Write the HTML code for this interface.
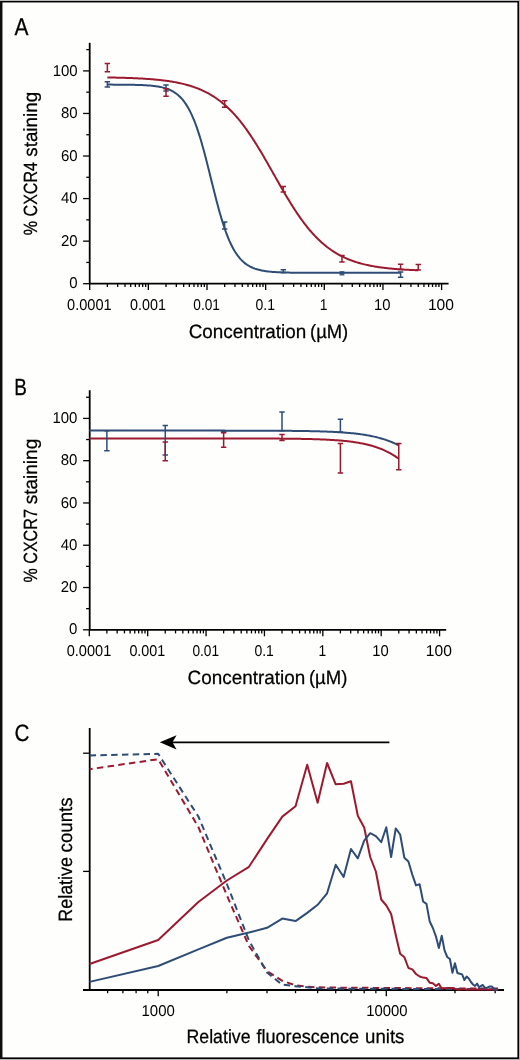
<!DOCTYPE html>
<html><head><meta charset="utf-8"><style>
html,body{margin:0;padding:0;background:#fefefd;}
svg{display:block;will-change:transform;}
text{font-family:"Liberation Sans",sans-serif;text-rendering:geometricPrecision;fill:#000;stroke:#000;stroke-width:0.25px;}
text.tl{stroke:none;}
.ax{stroke:#000;stroke-width:1.8;}
.tk{stroke:#000;stroke-width:1.3;}
.tl{font-size:15.6px;}
.al{font-size:19.3px;}
.rc{font-size:18.9px;}
.yl{font-size:17.3px;}
.pl{font-size:22.5px;}
</style></head><body>
<svg width="520" height="1060" viewBox="0 0 520 1060">
<rect x="0" y="0" width="520" height="1060" fill="#fefefd"/>
<rect x="0" y="0" width="520" height="1" fill="#bbb"/>
<rect x="0" y="1059" width="520" height="1" fill="#b2b2b2"/>
<rect x="519" y="0" width="1" height="1060" fill="#b2b2b2"/>
<rect x="0" y="1" width="519" height="1.45" fill="#000"/>
<rect x="0" y="1057.4" width="519" height="1.6" fill="#000"/>
<rect x="0" y="1" width="2.45" height="1058" fill="#0e0e0e"/>
<rect x="517.4" y="1" width="1.6" height="1058" fill="#000"/>
<g id="A">
<text transform="translate(14.6 34.9) scale(0.93 1.075)" class="pl">A</text>
<line x1="89.7" y1="42.8" x2="89.7" y2="283.7" class="ax"/>
<line x1="83.1" y1="283.7" x2="89.7" y2="283.7" class="tk"/>
<text x="69.35" y="288.3" class="tl" font-size="15.6" textLength="8.33" lengthAdjust="spacingAndGlyphs">0</text>
<line x1="86.3" y1="262.42" x2="89.7" y2="262.42" class="tk"/>
<line x1="83.1" y1="241.14" x2="89.7" y2="241.14" class="tk"/>
<text x="61.04" y="245.74" class="tl" font-size="15.6" textLength="16.66" lengthAdjust="spacingAndGlyphs">20</text>
<line x1="86.3" y1="219.86" x2="89.7" y2="219.86" class="tk"/>
<line x1="83.1" y1="198.58" x2="89.7" y2="198.58" class="tk"/>
<text x="61.04" y="203.18" class="tl" font-size="15.6" textLength="16.66" lengthAdjust="spacingAndGlyphs">40</text>
<line x1="86.3" y1="177.3" x2="89.7" y2="177.3" class="tk"/>
<line x1="83.1" y1="156.02" x2="89.7" y2="156.02" class="tk"/>
<text x="61.04" y="160.62" class="tl" font-size="15.6" textLength="16.66" lengthAdjust="spacingAndGlyphs">60</text>
<line x1="86.3" y1="134.74" x2="89.7" y2="134.74" class="tk"/>
<line x1="83.1" y1="113.46" x2="89.7" y2="113.46" class="tk"/>
<text x="61.04" y="118.06" class="tl" font-size="15.6" textLength="16.66" lengthAdjust="spacingAndGlyphs">80</text>
<line x1="86.3" y1="92.18" x2="89.7" y2="92.18" class="tk"/>
<line x1="83.1" y1="70.9" x2="89.7" y2="70.9" class="tk"/>
<text x="52.69" y="75.5" class="tl" font-size="15.6" textLength="24.99" lengthAdjust="spacingAndGlyphs">100</text>
<line x1="86.3" y1="49.62" x2="89.7" y2="49.62" class="tk"/>
<line x1="89.7" y1="283.7" x2="448.6" y2="283.7" class="ax"/>
<line x1="89.7" y1="283.7" x2="89.7" y2="290.1" class="tk"/>
<line x1="107.36" y1="283.7" x2="107.36" y2="287" class="tk"/>
<line x1="117.68" y1="283.7" x2="117.68" y2="287" class="tk"/>
<line x1="125.01" y1="283.7" x2="125.01" y2="287" class="tk"/>
<line x1="130.69" y1="283.7" x2="130.69" y2="287" class="tk"/>
<line x1="135.34" y1="283.7" x2="135.34" y2="287" class="tk"/>
<line x1="139.27" y1="283.7" x2="139.27" y2="287" class="tk"/>
<line x1="142.67" y1="283.7" x2="142.67" y2="287" class="tk"/>
<line x1="145.67" y1="283.7" x2="145.67" y2="287" class="tk"/>
<line x1="148.35" y1="283.7" x2="148.35" y2="290.1" class="tk"/>
<line x1="166.01" y1="283.7" x2="166.01" y2="287" class="tk"/>
<line x1="176.33" y1="283.7" x2="176.33" y2="287" class="tk"/>
<line x1="183.66" y1="283.7" x2="183.66" y2="287" class="tk"/>
<line x1="189.34" y1="283.7" x2="189.34" y2="287" class="tk"/>
<line x1="193.99" y1="283.7" x2="193.99" y2="287" class="tk"/>
<line x1="197.92" y1="283.7" x2="197.92" y2="287" class="tk"/>
<line x1="201.32" y1="283.7" x2="201.32" y2="287" class="tk"/>
<line x1="204.32" y1="283.7" x2="204.32" y2="287" class="tk"/>
<line x1="207" y1="283.7" x2="207" y2="290.1" class="tk"/>
<line x1="224.66" y1="283.7" x2="224.66" y2="287" class="tk"/>
<line x1="234.98" y1="283.7" x2="234.98" y2="287" class="tk"/>
<line x1="242.31" y1="283.7" x2="242.31" y2="287" class="tk"/>
<line x1="247.99" y1="283.7" x2="247.99" y2="287" class="tk"/>
<line x1="252.64" y1="283.7" x2="252.64" y2="287" class="tk"/>
<line x1="256.57" y1="283.7" x2="256.57" y2="287" class="tk"/>
<line x1="259.97" y1="283.7" x2="259.97" y2="287" class="tk"/>
<line x1="262.97" y1="283.7" x2="262.97" y2="287" class="tk"/>
<line x1="265.65" y1="283.7" x2="265.65" y2="290.1" class="tk"/>
<line x1="283.31" y1="283.7" x2="283.31" y2="287" class="tk"/>
<line x1="293.63" y1="283.7" x2="293.63" y2="287" class="tk"/>
<line x1="300.96" y1="283.7" x2="300.96" y2="287" class="tk"/>
<line x1="306.64" y1="283.7" x2="306.64" y2="287" class="tk"/>
<line x1="311.29" y1="283.7" x2="311.29" y2="287" class="tk"/>
<line x1="315.22" y1="283.7" x2="315.22" y2="287" class="tk"/>
<line x1="318.62" y1="283.7" x2="318.62" y2="287" class="tk"/>
<line x1="321.62" y1="283.7" x2="321.62" y2="287" class="tk"/>
<line x1="324.3" y1="283.7" x2="324.3" y2="290.1" class="tk"/>
<line x1="341.96" y1="283.7" x2="341.96" y2="287" class="tk"/>
<line x1="352.28" y1="283.7" x2="352.28" y2="287" class="tk"/>
<line x1="359.61" y1="283.7" x2="359.61" y2="287" class="tk"/>
<line x1="365.29" y1="283.7" x2="365.29" y2="287" class="tk"/>
<line x1="369.94" y1="283.7" x2="369.94" y2="287" class="tk"/>
<line x1="373.87" y1="283.7" x2="373.87" y2="287" class="tk"/>
<line x1="377.27" y1="283.7" x2="377.27" y2="287" class="tk"/>
<line x1="380.27" y1="283.7" x2="380.27" y2="287" class="tk"/>
<line x1="382.95" y1="283.7" x2="382.95" y2="290.1" class="tk"/>
<line x1="400.61" y1="283.7" x2="400.61" y2="287" class="tk"/>
<line x1="410.93" y1="283.7" x2="410.93" y2="287" class="tk"/>
<line x1="418.26" y1="283.7" x2="418.26" y2="287" class="tk"/>
<line x1="423.94" y1="283.7" x2="423.94" y2="287" class="tk"/>
<line x1="428.59" y1="283.7" x2="428.59" y2="287" class="tk"/>
<line x1="432.52" y1="283.7" x2="432.52" y2="287" class="tk"/>
<line x1="435.92" y1="283.7" x2="435.92" y2="287" class="tk"/>
<line x1="438.92" y1="283.7" x2="438.92" y2="287" class="tk"/>
<line x1="441.6" y1="283.7" x2="441.6" y2="290.1" class="tk"/>
<text x="67.07" y="310.3" class="tl" font-size="15.6" textLength="44.59" lengthAdjust="spacingAndGlyphs">0.0001</text>
<text x="130.08" y="310.3" class="tl" font-size="15.6" textLength="35.85" lengthAdjust="spacingAndGlyphs">0.001</text>
<text x="193.35" y="310.3" class="tl" font-size="15.6" textLength="26.62" lengthAdjust="spacingAndGlyphs">0.01</text>
<text x="255.59" y="310.3" class="tl" font-size="15.6" textLength="19.43" lengthAdjust="spacingAndGlyphs">0.1</text>
<text x="319.86" y="310.3" class="tl" font-size="15.6" textLength="7.72" lengthAdjust="spacingAndGlyphs">1</text>
<text x="374.05" y="310.3" class="tl" font-size="15.6" textLength="16.48" lengthAdjust="spacingAndGlyphs">10</text>
<text x="427.88" y="310.3" class="tl" font-size="15.6" textLength="26.07" lengthAdjust="spacingAndGlyphs">100</text>
<text x="188.66" y="337.5" class="al" font-size="19.3" textLength="117.6" lengthAdjust="spacingAndGlyphs">Concentration</text>
<text x="310.05" y="337.5" class="al" font-size="19.3" textLength="38.2" lengthAdjust="spacingAndGlyphs">(µM)</text>
<text transform="translate(37.1 0) rotate(-90)" x="-235.16" y="0" font-size="19.1" textLength="73.13" lengthAdjust="spacingAndGlyphs">% CXCR4</text>
<text transform="translate(37.1 0) rotate(-90)" x="-156.72" y="0" font-size="19.1" textLength="64.83" lengthAdjust="spacingAndGlyphs">staining</text>
<polyline points="107.36,77.46 108.39,77.48 109.43,77.49 110.46,77.51 111.5,77.53 112.54,77.55 113.57,77.57 114.61,77.59 115.65,77.62 116.68,77.64 117.72,77.66 118.76,77.69 119.79,77.72 120.83,77.74 121.86,77.77 122.9,77.8 123.94,77.83 124.97,77.86 126.01,77.89 127.05,77.93 128.08,77.96 129.12,78 130.16,78.04 131.19,78.08 132.23,78.12 133.26,78.16 134.3,78.2 135.34,78.25 136.37,78.3 137.41,78.35 138.45,78.4 139.48,78.45 140.52,78.51 141.56,78.56 142.59,78.62 143.63,78.68 144.66,78.75 145.7,78.81 146.74,78.88 147.77,78.95 148.81,79.03 149.85,79.11 150.88,79.19 151.92,79.27 152.95,79.35 153.99,79.44 155.03,79.54 156.06,79.63 157.1,79.73 158.14,79.84 159.17,79.94 160.21,80.05 161.25,80.17 162.28,80.29 163.32,80.41 164.35,80.54 165.39,80.68 166.43,80.81 167.46,80.96 168.5,81.11 169.54,81.26 170.57,81.42 171.61,81.59 172.65,81.76 173.68,81.94 174.72,82.12 175.75,82.31 176.79,82.51 177.83,82.72 178.86,82.93 179.9,83.15 180.94,83.38 181.97,83.62 183.01,83.86 184.05,84.12 185.08,84.38 186.12,84.66 187.15,84.94 188.19,85.23 189.23,85.53 190.26,85.85 191.3,86.17 192.34,86.51 193.37,86.85 194.41,87.21 195.45,87.59 196.48,87.97 197.52,88.37 198.55,88.78 199.59,89.2 200.63,89.64 201.66,90.1 202.7,90.57 203.74,91.05 204.77,91.55 205.81,92.07 206.85,92.6 207.88,93.15 208.92,93.72 209.95,94.31 210.99,94.91 212.03,95.54 213.06,96.18 214.1,96.84 215.14,97.53 216.17,98.23 217.21,98.96 218.25,99.7 219.28,100.47 220.32,101.26 221.35,102.08 222.39,102.91 223.43,103.77 224.46,104.66 225.5,105.57 226.54,106.5 227.57,107.46 228.61,108.44 229.64,109.45 230.68,110.49 231.72,111.55 232.75,112.63 233.79,113.75 234.83,114.88 235.86,116.05 236.9,117.24 237.94,118.46 238.97,119.71 240.01,120.98 241.04,122.28 242.08,123.61 243.12,124.96 244.15,126.34 245.19,127.74 246.23,129.17 247.26,130.63 248.3,132.11 249.34,133.61 250.37,135.14 251.41,136.69 252.44,138.26 253.48,139.86 254.52,141.48 255.55,143.12 256.59,144.77 257.63,146.45 258.66,148.15 259.7,149.86 260.74,151.59 261.77,153.33 262.81,155.09 263.84,156.86 264.88,158.65 265.92,160.44 266.95,162.25 267.99,164.06 269.03,165.88 270.06,167.7 271.1,169.53 272.14,171.37 273.17,173.2 274.21,175.04 275.24,176.87 276.28,178.71 277.32,180.53 278.35,182.36 279.39,184.18 280.43,185.99 281.46,187.8 282.5,189.59 283.54,191.37 284.57,193.15 285.61,194.9 286.64,196.65 287.68,198.38 288.72,200.09 289.75,201.79 290.79,203.46 291.83,205.12 292.86,206.76 293.9,208.38 294.94,209.98 295.97,211.55 297.01,213.1 298.04,214.63 299.08,216.14 300.12,217.62 301.15,219.07 302.19,220.5 303.23,221.91 304.26,223.28 305.3,224.64 306.33,225.96 307.37,227.26 308.41,228.54 309.44,229.78 310.48,231 311.52,232.19 312.55,233.36 313.59,234.5 314.63,235.61 315.66,236.7 316.7,237.76 317.73,238.8 318.77,239.8 319.81,240.79 320.84,241.75 321.88,242.68 322.92,243.59 323.95,244.47 324.99,245.33 326.03,246.17 327.06,246.99 328.1,247.78 329.13,248.55 330.17,249.29 331.21,250.02 332.24,250.72 333.28,251.41 334.32,252.07 335.35,252.71 336.39,253.34 337.43,253.94 338.46,254.53 339.5,255.1 340.53,255.65 341.57,256.18 342.61,256.7 343.64,257.2 344.68,257.69 345.72,258.15 346.75,258.61 347.79,259.05 348.83,259.47 349.86,259.88 350.9,260.28 351.93,260.67 352.97,261.04 354.01,261.4 355.04,261.75 356.08,262.08 357.12,262.41 358.15,262.72 359.19,263.02 360.23,263.32 361.26,263.6 362.3,263.87 363.33,264.13 364.37,264.39 365.41,264.63 366.44,264.87 367.48,265.1 368.52,265.32 369.55,265.54 370.59,265.74 371.63,265.94 372.66,266.13 373.7,266.32 374.73,266.5 375.77,266.67 376.81,266.83 377.84,266.99 378.88,267.15 379.92,267.3 380.95,267.44 381.99,267.58 383.02,267.71 384.06,267.84 385.1,267.97 386.13,268.09 387.17,268.2 388.21,268.31 389.24,268.42 390.28,268.52 391.32,268.62 392.35,268.72 393.39,268.81 394.42,268.9 395.46,268.99 396.5,269.07 397.53,269.15 398.57,269.23 399.61,269.3 400.64,269.37 401.68,269.44 402.72,269.51 403.75,269.57 404.79,269.63 405.82,269.69 406.86,269.75 407.9,269.8 408.93,269.86 409.97,269.91 411.01,269.96 412.04,270.01 413.08,270.05 414.12,270.1 415.15,270.14 416.19,270.18 417.22,270.22 418.26,270.26" fill="none" stroke="#9b1a2f" stroke-width="2" stroke-linejoin="round" />
<polyline points="107.36,84.61 108.33,84.61 109.31,84.62 110.29,84.62 111.27,84.62 112.24,84.62 113.22,84.63 114.2,84.63 115.18,84.64 116.15,84.64 117.13,84.64 118.11,84.65 119.09,84.66 120.06,84.66 121.04,84.67 122.02,84.68 123,84.68 123.97,84.69 124.95,84.7 125.93,84.71 126.91,84.72 127.88,84.73 128.86,84.75 129.84,84.76 130.82,84.78 131.79,84.79 132.77,84.81 133.75,84.83 134.73,84.85 135.7,84.88 136.68,84.9 137.66,84.93 138.64,84.96 139.61,84.99 140.59,85.03 141.57,85.07 142.55,85.11 143.52,85.15 144.5,85.2 145.48,85.26 146.46,85.32 147.43,85.38 148.41,85.45 149.39,85.53 150.37,85.61 151.34,85.7 152.32,85.79 153.3,85.9 154.28,86.01 155.25,86.14 156.23,86.27 157.21,86.42 158.19,86.58 159.16,86.75 160.14,86.94 161.12,87.14 162.1,87.36 163.07,87.6 164.05,87.86 165.03,88.14 166.01,88.45 166.98,88.78 167.96,89.14 168.94,89.53 169.92,89.95 170.89,90.4 171.87,90.9 172.85,91.43 173.83,92.01 174.8,92.63 175.78,93.3 176.76,94.03 177.74,94.81 178.71,95.65 179.69,96.56 180.67,97.54 181.65,98.59 182.62,99.72 183.6,100.93 184.58,102.23 185.56,103.62 186.53,105.11 187.51,106.7 188.49,108.39 189.47,110.19 190.44,112.11 191.42,114.14 192.4,116.3 193.38,118.57 194.35,120.98 195.33,123.51 196.31,126.17 197.29,128.95 198.26,131.86 199.24,134.9 200.22,138.06 201.2,141.33 202.17,144.72 203.15,148.21 204.13,151.79 205.11,155.47 206.08,159.22 207.06,163.03 208.04,166.9 209.02,170.81 209.99,174.75 210.97,178.7 211.95,182.65 212.93,186.59 213.9,190.5 214.88,194.37 215.86,198.19 216.84,201.94 217.81,205.61 218.79,209.2 219.77,212.69 220.75,216.07 221.72,219.35 222.7,222.51 223.68,225.54 224.66,228.46 225.63,231.24 226.61,233.9 227.59,236.43 228.57,238.84 229.54,241.12 230.52,243.27 231.5,245.31 232.48,247.22 233.45,249.03 234.43,250.72 235.41,252.31 236.39,253.79 237.36,255.19 238.34,256.48 239.32,257.7 240.3,258.83 241.27,259.88 242.25,260.86 243.23,261.76 244.21,262.61 245.18,263.39 246.16,264.12 247.14,264.79 248.12,265.41 249.09,265.99 250.07,266.52 251.05,267.02 252.03,267.47 253,267.89 253.98,268.28 254.96,268.64 255.94,268.97 256.91,269.28 257.89,269.56 258.87,269.82 259.85,270.06 260.82,270.28 261.8,270.48 262.78,270.67 263.76,270.84 264.73,271 265.71,271.15 266.69,271.29 267.67,271.41 268.64,271.52 269.62,271.63 270.6,271.73 271.58,271.82 272.55,271.9 273.53,271.97 274.51,272.04 275.49,272.11 276.46,272.17 277.44,272.22 278.42,272.27 279.4,272.31 280.37,272.36 281.35,272.4 282.33,272.43 283.31,272.46 284.28,272.49 285.26,272.52 286.24,272.55 287.22,272.57 288.19,272.59 289.17,272.61 290.15,272.63 291.13,272.65 292.1,272.66 293.08,272.68 294.06,272.69 295.04,272.7 296.01,272.71 296.99,272.72 297.97,272.73 298.95,272.74 299.92,272.75 300.9,272.76 301.88,272.76 302.86,272.77 303.83,272.77 304.81,272.78 305.79,272.78 306.77,272.79 307.74,272.79 308.72,272.8 309.7,272.8 310.68,272.8 311.65,272.81 312.63,272.81 313.61,272.81 314.59,272.81 315.56,272.82 316.54,272.82 317.52,272.82 318.5,272.82 319.47,272.82 320.45,272.82 321.43,272.82 322.41,272.83 323.38,272.83 324.36,272.83 325.34,272.83 326.32,272.83 327.29,272.83 328.27,272.83 329.25,272.83 330.23,272.83 331.2,272.83 332.18,272.83 333.16,272.83 334.14,272.83 335.11,272.83 336.09,272.83 337.07,272.83 338.05,272.84 339.02,272.84 340,272.84 340.98,272.84 341.96,272.84 342.93,272.84 343.91,272.84 344.89,272.84 345.87,272.84 346.84,272.84 347.82,272.84 348.8,272.84 349.78,272.84 350.75,272.84 351.73,272.84 352.71,272.84 353.69,272.84 354.66,272.84 355.64,272.84 356.62,272.84 357.6,272.84 358.57,272.84 359.55,272.84 360.53,272.84 361.51,272.84 362.48,272.84 363.46,272.84 364.44,272.84 365.42,272.84 366.39,272.84 367.37,272.84 368.35,272.84 369.33,272.84 370.3,272.84 371.28,272.84 372.26,272.84 373.24,272.84 374.21,272.84 375.19,272.84 376.17,272.84 377.15,272.84 378.12,272.84 379.1,272.84 380.08,272.84 381.06,272.84 382.03,272.84 383.01,272.84 383.99,272.84 384.97,272.84 385.94,272.84 386.92,272.84 387.9,272.84 388.88,272.84 389.85,272.84 390.83,272.84 391.81,272.84 392.79,272.84 393.76,272.84 394.74,272.84 395.72,272.84 396.7,272.84 397.67,272.84 398.65,272.84 399.63,272.84 400.61,272.84" fill="none" stroke="#2f4c76" stroke-width="2" stroke-linejoin="round" />
<path d="M107.36 81.7V86.9M104.66 81.7H110.06M104.66 86.9H110.06" stroke="#2f4c76" stroke-width="1.5" fill="none"/>
<path d="M166.01 85.1V91M163.31 85.1H168.71M163.31 91H168.71" stroke="#2f4c76" stroke-width="1.5" fill="none"/>
<path d="M224.66 221.9V228.9M221.96 221.9H227.36M221.96 228.9H227.36" stroke="#2f4c76" stroke-width="1.5" fill="none"/>
<path d="M283.31 269.7V272.5M280.61 269.7H286.01M280.61 272.5H286.01" stroke="#2f4c76" stroke-width="1.5" fill="none"/>
<path d="M400.61 271.9V277.3M397.91 271.9H403.31M397.91 277.3H403.31" stroke="#2f4c76" stroke-width="1.5" fill="none"/>
<rect x="339.56" y="271.1" width="4.8" height="4.4" fill="#2f4c76" opacity="0.9"/>
<path d="M107.36 63.5V71.7M104.66 63.5H110.06M104.66 71.7H110.06" stroke="#9b1a2f" stroke-width="1.5" fill="none"/>
<path d="M166.01 88.7V96.2M163.31 88.7H168.71M163.31 96.2H168.71" stroke="#9b1a2f" stroke-width="1.5" fill="none"/>
<path d="M224.66 100.8V107.2M221.96 100.8H227.36M221.96 107.2H227.36" stroke="#9b1a2f" stroke-width="1.5" fill="none"/>
<path d="M283.31 186.6V192M280.61 186.6H286.01M280.61 192H286.01" stroke="#9b1a2f" stroke-width="1.5" fill="none"/>
<path d="M341.96 255.6V261.9M339.26 255.6H344.66M339.26 261.9H344.66" stroke="#9b1a2f" stroke-width="1.5" fill="none"/>
<path d="M400.61 264.2V269.6M397.91 264.2H403.31M397.91 269.6H403.31" stroke="#9b1a2f" stroke-width="1.5" fill="none"/>
<path d="M418.26 264.6V270M415.56 264.6H420.96M415.56 270H420.96" stroke="#9b1a2f" stroke-width="1.5" fill="none"/>
</g>
<g id="B">
<text transform="translate(14.2 394.9) scale(0.84 1.04)" class="pl">B</text>
<line x1="89.7" y1="390.2" x2="89.7" y2="629.8" class="ax"/>
<line x1="83.1" y1="629.8" x2="89.7" y2="629.8" class="tk"/>
<text x="69.05" y="634.4" class="tl" font-size="15.6" textLength="8.33" lengthAdjust="spacingAndGlyphs">0</text>
<line x1="86.1" y1="608.66" x2="89.7" y2="608.66" class="tk"/>
<line x1="83.1" y1="587.52" x2="89.7" y2="587.52" class="tk"/>
<text x="60.74" y="592.12" class="tl" font-size="15.6" textLength="16.66" lengthAdjust="spacingAndGlyphs">20</text>
<line x1="86.1" y1="566.38" x2="89.7" y2="566.38" class="tk"/>
<line x1="83.1" y1="545.24" x2="89.7" y2="545.24" class="tk"/>
<text x="60.74" y="549.84" class="tl" font-size="15.6" textLength="16.66" lengthAdjust="spacingAndGlyphs">40</text>
<line x1="86.1" y1="524.1" x2="89.7" y2="524.1" class="tk"/>
<line x1="83.1" y1="502.96" x2="89.7" y2="502.96" class="tk"/>
<text x="60.74" y="507.56" class="tl" font-size="15.6" textLength="16.66" lengthAdjust="spacingAndGlyphs">60</text>
<line x1="86.1" y1="481.82" x2="89.7" y2="481.82" class="tk"/>
<line x1="83.1" y1="460.68" x2="89.7" y2="460.68" class="tk"/>
<text x="60.74" y="465.28" class="tl" font-size="15.6" textLength="16.66" lengthAdjust="spacingAndGlyphs">80</text>
<line x1="86.1" y1="439.54" x2="89.7" y2="439.54" class="tk"/>
<line x1="83.1" y1="418.4" x2="89.7" y2="418.4" class="tk"/>
<text x="52.39" y="423" class="tl" font-size="15.6" textLength="24.99" lengthAdjust="spacingAndGlyphs">100</text>
<line x1="86.1" y1="397.26" x2="89.7" y2="397.26" class="tk"/>
<line x1="89.7" y1="629.8" x2="446.2" y2="629.8" class="ax"/>
<line x1="89.3" y1="629.8" x2="89.3" y2="636.3" class="tk"/>
<line x1="106.87" y1="629.8" x2="106.87" y2="633.4" class="tk"/>
<line x1="117.15" y1="629.8" x2="117.15" y2="633.4" class="tk"/>
<line x1="124.45" y1="629.8" x2="124.45" y2="633.4" class="tk"/>
<line x1="130.11" y1="629.8" x2="130.11" y2="633.4" class="tk"/>
<line x1="134.73" y1="629.8" x2="134.73" y2="633.4" class="tk"/>
<line x1="138.64" y1="629.8" x2="138.64" y2="633.4" class="tk"/>
<line x1="142.02" y1="629.8" x2="142.02" y2="633.4" class="tk"/>
<line x1="145.01" y1="629.8" x2="145.01" y2="633.4" class="tk"/>
<line x1="147.68" y1="629.8" x2="147.68" y2="636.3" class="tk"/>
<line x1="165.25" y1="629.8" x2="165.25" y2="633.4" class="tk"/>
<line x1="175.53" y1="629.8" x2="175.53" y2="633.4" class="tk"/>
<line x1="182.83" y1="629.8" x2="182.83" y2="633.4" class="tk"/>
<line x1="188.49" y1="629.8" x2="188.49" y2="633.4" class="tk"/>
<line x1="193.11" y1="629.8" x2="193.11" y2="633.4" class="tk"/>
<line x1="197.02" y1="629.8" x2="197.02" y2="633.4" class="tk"/>
<line x1="200.4" y1="629.8" x2="200.4" y2="633.4" class="tk"/>
<line x1="203.39" y1="629.8" x2="203.39" y2="633.4" class="tk"/>
<line x1="206.06" y1="629.8" x2="206.06" y2="636.3" class="tk"/>
<line x1="223.63" y1="629.8" x2="223.63" y2="633.4" class="tk"/>
<line x1="233.91" y1="629.8" x2="233.91" y2="633.4" class="tk"/>
<line x1="241.21" y1="629.8" x2="241.21" y2="633.4" class="tk"/>
<line x1="246.87" y1="629.8" x2="246.87" y2="633.4" class="tk"/>
<line x1="251.49" y1="629.8" x2="251.49" y2="633.4" class="tk"/>
<line x1="255.4" y1="629.8" x2="255.4" y2="633.4" class="tk"/>
<line x1="258.78" y1="629.8" x2="258.78" y2="633.4" class="tk"/>
<line x1="261.77" y1="629.8" x2="261.77" y2="633.4" class="tk"/>
<line x1="264.44" y1="629.8" x2="264.44" y2="636.3" class="tk"/>
<line x1="282.01" y1="629.8" x2="282.01" y2="633.4" class="tk"/>
<line x1="292.29" y1="629.8" x2="292.29" y2="633.4" class="tk"/>
<line x1="299.59" y1="629.8" x2="299.59" y2="633.4" class="tk"/>
<line x1="305.25" y1="629.8" x2="305.25" y2="633.4" class="tk"/>
<line x1="309.87" y1="629.8" x2="309.87" y2="633.4" class="tk"/>
<line x1="313.78" y1="629.8" x2="313.78" y2="633.4" class="tk"/>
<line x1="317.16" y1="629.8" x2="317.16" y2="633.4" class="tk"/>
<line x1="320.15" y1="629.8" x2="320.15" y2="633.4" class="tk"/>
<line x1="322.82" y1="629.8" x2="322.82" y2="636.3" class="tk"/>
<line x1="340.39" y1="629.8" x2="340.39" y2="633.4" class="tk"/>
<line x1="350.67" y1="629.8" x2="350.67" y2="633.4" class="tk"/>
<line x1="357.97" y1="629.8" x2="357.97" y2="633.4" class="tk"/>
<line x1="363.63" y1="629.8" x2="363.63" y2="633.4" class="tk"/>
<line x1="368.25" y1="629.8" x2="368.25" y2="633.4" class="tk"/>
<line x1="372.16" y1="629.8" x2="372.16" y2="633.4" class="tk"/>
<line x1="375.54" y1="629.8" x2="375.54" y2="633.4" class="tk"/>
<line x1="378.53" y1="629.8" x2="378.53" y2="633.4" class="tk"/>
<line x1="381.2" y1="629.8" x2="381.2" y2="636.3" class="tk"/>
<line x1="398.77" y1="629.8" x2="398.77" y2="633.4" class="tk"/>
<line x1="409.05" y1="629.8" x2="409.05" y2="633.4" class="tk"/>
<line x1="416.35" y1="629.8" x2="416.35" y2="633.4" class="tk"/>
<line x1="422.01" y1="629.8" x2="422.01" y2="633.4" class="tk"/>
<line x1="426.63" y1="629.8" x2="426.63" y2="633.4" class="tk"/>
<line x1="430.54" y1="629.8" x2="430.54" y2="633.4" class="tk"/>
<line x1="433.92" y1="629.8" x2="433.92" y2="633.4" class="tk"/>
<line x1="436.91" y1="629.8" x2="436.91" y2="633.4" class="tk"/>
<line x1="439.58" y1="629.8" x2="439.58" y2="636.3" class="tk"/>
<text x="66.67" y="656.4" class="tl" font-size="15.6" textLength="44.59" lengthAdjust="spacingAndGlyphs">0.0001</text>
<text x="129.41" y="656.4" class="tl" font-size="15.6" textLength="35.85" lengthAdjust="spacingAndGlyphs">0.001</text>
<text x="192.41" y="656.4" class="tl" font-size="15.6" textLength="26.62" lengthAdjust="spacingAndGlyphs">0.01</text>
<text x="254.38" y="656.4" class="tl" font-size="15.6" textLength="19.43" lengthAdjust="spacingAndGlyphs">0.1</text>
<text x="318.38" y="656.4" class="tl" font-size="15.6" textLength="7.72" lengthAdjust="spacingAndGlyphs">1</text>
<text x="372.3" y="656.4" class="tl" font-size="15.6" textLength="16.48" lengthAdjust="spacingAndGlyphs">10</text>
<text x="425.86" y="656.4" class="tl" font-size="15.6" textLength="26.07" lengthAdjust="spacingAndGlyphs">100</text>
<text x="187.56" y="683.6" class="al" font-size="19.3" textLength="117.6" lengthAdjust="spacingAndGlyphs">Concentration</text>
<text x="308.94" y="683.6" class="al" font-size="19.3" textLength="38.42" lengthAdjust="spacingAndGlyphs">(µM)</text>
<text transform="translate(37 0) rotate(-90)" x="-582.56" y="0" font-size="19.1" textLength="73.4" lengthAdjust="spacingAndGlyphs">% CXCR7</text>
<text transform="translate(37 0) rotate(-90)" x="-504.32" y="0" font-size="19.1" textLength="65.55" lengthAdjust="spacingAndGlyphs">staining</text>
<polyline points="89.3,438.45 90.33,438.45 91.36,438.45 92.39,438.45 93.43,438.45 94.46,438.45 95.49,438.45 96.52,438.45 97.55,438.45 98.58,438.45 99.62,438.45 100.65,438.45 101.68,438.45 102.71,438.45 103.74,438.45 104.77,438.45 105.81,438.45 106.84,438.45 107.87,438.45 108.9,438.45 109.93,438.45 110.96,438.45 111.99,438.45 113.03,438.45 114.06,438.45 115.09,438.45 116.12,438.45 117.15,438.45 118.18,438.45 119.22,438.45 120.25,438.45 121.28,438.45 122.31,438.45 123.34,438.45 124.37,438.45 125.41,438.45 126.44,438.45 127.47,438.45 128.5,438.45 129.53,438.45 130.56,438.45 131.59,438.45 132.63,438.45 133.66,438.45 134.69,438.45 135.72,438.45 136.75,438.45 137.78,438.45 138.82,438.45 139.85,438.45 140.88,438.45 141.91,438.45 142.94,438.45 143.97,438.45 145.01,438.45 146.04,438.45 147.07,438.45 148.1,438.45 149.13,438.45 150.16,438.45 151.19,438.45 152.23,438.45 153.26,438.45 154.29,438.45 155.32,438.45 156.35,438.45 157.38,438.45 158.42,438.45 159.45,438.45 160.48,438.45 161.51,438.45 162.54,438.45 163.57,438.45 164.61,438.45 165.64,438.45 166.67,438.45 167.7,438.45 168.73,438.45 169.76,438.45 170.79,438.45 171.83,438.45 172.86,438.45 173.89,438.45 174.92,438.45 175.95,438.45 176.98,438.45 178.02,438.45 179.05,438.45 180.08,438.45 181.11,438.45 182.14,438.45 183.17,438.45 184.21,438.45 185.24,438.45 186.27,438.45 187.3,438.45 188.33,438.45 189.36,438.45 190.39,438.45 191.43,438.45 192.46,438.45 193.49,438.45 194.52,438.45 195.55,438.45 196.58,438.45 197.62,438.45 198.65,438.45 199.68,438.45 200.71,438.45 201.74,438.45 202.77,438.45 203.81,438.45 204.84,438.45 205.87,438.45 206.9,438.46 207.93,438.46 208.96,438.46 209.99,438.46 211.03,438.46 212.06,438.46 213.09,438.46 214.12,438.46 215.15,438.46 216.18,438.46 217.22,438.46 218.25,438.46 219.28,438.46 220.31,438.46 221.34,438.46 222.37,438.46 223.41,438.46 224.44,438.47 225.47,438.47 226.5,438.47 227.53,438.47 228.56,438.47 229.59,438.47 230.63,438.47 231.66,438.47 232.69,438.47 233.72,438.47 234.75,438.48 235.78,438.48 236.82,438.48 237.85,438.48 238.88,438.48 239.91,438.48 240.94,438.48 241.97,438.49 243.01,438.49 244.04,438.49 245.07,438.49 246.1,438.49 247.13,438.49 248.16,438.5 249.19,438.5 250.23,438.5 251.26,438.5 252.29,438.51 253.32,438.51 254.35,438.51 255.38,438.51 256.42,438.52 257.45,438.52 258.48,438.52 259.51,438.53 260.54,438.53 261.57,438.53 262.61,438.54 263.64,438.54 264.67,438.55 265.7,438.55 266.73,438.55 267.76,438.56 268.79,438.56 269.83,438.57 270.86,438.57 271.89,438.58 272.92,438.58 273.95,438.59 274.98,438.6 276.02,438.6 277.05,438.61 278.08,438.62 279.11,438.62 280.14,438.63 281.17,438.64 282.21,438.65 283.24,438.66 284.27,438.67 285.3,438.68 286.33,438.68 287.36,438.7 288.4,438.71 289.43,438.72 290.46,438.73 291.49,438.74 292.52,438.75 293.55,438.77 294.58,438.78 295.62,438.79 296.65,438.81 297.68,438.82 298.71,438.84 299.74,438.86 300.77,438.87 301.81,438.89 302.84,438.91 303.87,438.93 304.9,438.95 305.93,438.97 306.96,439 308,439.02 309.03,439.04 310.06,439.07 311.09,439.1 312.12,439.12 313.15,439.15 314.18,439.18 315.22,439.21 316.25,439.25 317.28,439.28 318.31,439.32 319.34,439.35 320.37,439.39 321.41,439.43 322.44,439.47 323.47,439.52 324.5,439.56 325.53,439.61 326.56,439.66 327.6,439.71 328.63,439.76 329.66,439.82 330.69,439.88 331.72,439.94 332.75,440 333.78,440.07 334.82,440.14 335.85,440.21 336.88,440.28 337.91,440.36 338.94,440.44 339.97,440.53 341.01,440.61 342.04,440.7 343.07,440.8 344.1,440.9 345.13,441 346.16,441.11 347.2,441.22 348.23,441.34 349.26,441.46 350.29,441.59 351.32,441.72 352.35,441.86 353.38,442 354.42,442.15 355.45,442.3 356.48,442.46 357.51,442.63 358.54,442.8 359.57,442.99 360.61,443.18 361.64,443.37 362.67,443.58 363.7,443.79 364.73,444.01 365.76,444.24 366.8,444.48 367.83,444.73 368.86,444.99 369.89,445.26 370.92,445.54 371.95,445.83 372.98,446.13 374.02,446.45 375.05,446.77 376.08,447.11 377.11,447.46 378.14,447.83 379.17,448.21 380.21,448.6 381.24,449.01 382.27,449.44 383.3,449.88 384.33,450.34 385.36,450.81 386.4,451.3 387.43,451.81 388.46,452.34 389.49,452.89 390.52,453.46 391.55,454.05 392.58,454.66 393.62,455.29 394.65,455.94 395.68,456.62 396.71,457.31 397.74,458.04 398.77,458.78" fill="none" stroke="#9b1a2f" stroke-width="2" stroke-linejoin="round" />
<polyline points="89.3,430.61 90.33,430.61 91.36,430.61 92.39,430.61 93.43,430.61 94.46,430.61 95.49,430.61 96.52,430.61 97.55,430.61 98.58,430.61 99.62,430.61 100.65,430.61 101.68,430.61 102.71,430.61 103.74,430.61 104.77,430.61 105.81,430.61 106.84,430.61 107.87,430.61 108.9,430.61 109.93,430.61 110.96,430.61 111.99,430.61 113.03,430.61 114.06,430.61 115.09,430.61 116.12,430.61 117.15,430.61 118.18,430.61 119.22,430.61 120.25,430.61 121.28,430.61 122.31,430.61 123.34,430.61 124.37,430.61 125.41,430.61 126.44,430.61 127.47,430.61 128.5,430.61 129.53,430.61 130.56,430.61 131.59,430.61 132.63,430.61 133.66,430.61 134.69,430.61 135.72,430.61 136.75,430.61 137.78,430.61 138.82,430.61 139.85,430.61 140.88,430.61 141.91,430.61 142.94,430.61 143.97,430.61 145.01,430.61 146.04,430.61 147.07,430.61 148.1,430.61 149.13,430.61 150.16,430.61 151.19,430.61 152.23,430.61 153.26,430.61 154.29,430.61 155.32,430.61 156.35,430.61 157.38,430.61 158.42,430.61 159.45,430.61 160.48,430.61 161.51,430.61 162.54,430.61 163.57,430.61 164.61,430.61 165.64,430.61 166.67,430.61 167.7,430.61 168.73,430.61 169.76,430.61 170.79,430.61 171.83,430.61 172.86,430.61 173.89,430.61 174.92,430.61 175.95,430.61 176.98,430.61 178.02,430.61 179.05,430.61 180.08,430.61 181.11,430.61 182.14,430.61 183.17,430.61 184.21,430.61 185.24,430.61 186.27,430.61 187.3,430.61 188.33,430.61 189.36,430.61 190.39,430.61 191.43,430.61 192.46,430.61 193.49,430.61 194.52,430.61 195.55,430.61 196.58,430.61 197.62,430.61 198.65,430.61 199.68,430.61 200.71,430.61 201.74,430.61 202.77,430.61 203.81,430.61 204.84,430.61 205.87,430.61 206.9,430.62 207.93,430.62 208.96,430.62 209.99,430.62 211.03,430.62 212.06,430.62 213.09,430.62 214.12,430.62 215.15,430.62 216.18,430.62 217.22,430.62 218.25,430.62 219.28,430.62 220.31,430.62 221.34,430.62 222.37,430.62 223.41,430.62 224.44,430.62 225.47,430.63 226.5,430.63 227.53,430.63 228.56,430.63 229.59,430.63 230.63,430.63 231.66,430.63 232.69,430.63 233.72,430.63 234.75,430.63 235.78,430.64 236.82,430.64 237.85,430.64 238.88,430.64 239.91,430.64 240.94,430.64 241.97,430.64 243.01,430.65 244.04,430.65 245.07,430.65 246.1,430.65 247.13,430.65 248.16,430.65 249.19,430.66 250.23,430.66 251.26,430.66 252.29,430.66 253.32,430.67 254.35,430.67 255.38,430.67 256.42,430.67 257.45,430.68 258.48,430.68 259.51,430.68 260.54,430.68 261.57,430.69 262.61,430.69 263.64,430.69 264.67,430.7 265.7,430.7 266.73,430.71 267.76,430.71 268.79,430.71 269.83,430.72 270.86,430.72 271.89,430.73 272.92,430.73 273.95,430.74 274.98,430.74 276.02,430.75 277.05,430.75 278.08,430.76 279.11,430.77 280.14,430.77 281.17,430.78 282.21,430.79 283.24,430.79 284.27,430.8 285.3,430.81 286.33,430.82 287.36,430.83 288.4,430.84 289.43,430.85 290.46,430.86 291.49,430.87 292.52,430.88 293.55,430.89 294.58,430.9 295.62,430.91 296.65,430.92 297.68,430.93 298.71,430.95 299.74,430.96 300.77,430.98 301.81,430.99 302.84,431.01 303.87,431.02 304.9,431.04 305.93,431.06 306.96,431.08 308,431.09 309.03,431.11 310.06,431.14 311.09,431.16 312.12,431.18 313.15,431.2 314.18,431.23 315.22,431.25 316.25,431.28 317.28,431.3 318.31,431.33 319.34,431.36 320.37,431.39 321.41,431.42 322.44,431.46 323.47,431.49 324.5,431.53 325.53,431.56 326.56,431.6 327.6,431.64 328.63,431.68 329.66,431.73 330.69,431.77 331.72,431.82 332.75,431.87 333.78,431.92 334.82,431.97 335.85,432.03 336.88,432.08 337.91,432.14 338.94,432.2 339.97,432.27 341.01,432.33 342.04,432.4 343.07,432.48 344.1,432.55 345.13,432.63 346.16,432.71 347.2,432.79 348.23,432.88 349.26,432.97 350.29,433.07 351.32,433.16 352.35,433.27 353.38,433.37 354.42,433.48 355.45,433.6 356.48,433.72 357.51,433.84 358.54,433.97 359.57,434.1 360.61,434.24 361.64,434.38 362.67,434.53 363.7,434.69 364.73,434.85 365.76,435.02 366.8,435.19 367.83,435.37 368.86,435.56 369.89,435.76 370.92,435.96 371.95,436.17 372.98,436.39 374.02,436.61 375.05,436.85 376.08,437.09 377.11,437.35 378.14,437.61 379.17,437.88 380.21,438.16 381.24,438.46 382.27,438.76 383.3,439.08 384.33,439.4 385.36,439.74 386.4,440.1 387.43,440.46 388.46,440.84 389.49,441.23 390.52,441.63 391.55,442.05 392.58,442.49 393.62,442.94 394.65,443.41 395.68,443.89 396.71,444.39 397.74,444.91 398.77,445.44" fill="none" stroke="#2f4c76" stroke-width="2" stroke-linejoin="round" />
<path d="M106.87 430.8V450.8M104.17 430.8H109.57M104.17 450.8H109.57" stroke="#2f4c76" stroke-width="1.5" fill="none"/>
<path d="M165.25 425.5V455M162.55 425.5H167.95M162.55 455H167.95" stroke="#2f4c76" stroke-width="1.5" fill="none"/>
<path d="M223.63 430.7V431.6M220.93 430.7H226.33M220.93 431.6H226.33" stroke="#2f4c76" stroke-width="1.5" fill="none"/>
<path d="M282.01 411.9V430.8M279.31 411.9H284.71M279.31 430.8H284.71" stroke="#2f4c76" stroke-width="1.5" fill="none"/>
<path d="M340.39 419.2V432M337.69 419.2H343.09M337.69 432H343.09" stroke="#2f4c76" stroke-width="1.5" fill="none"/>
<path d="M165.25 441.9V460.8M162.55 441.9H167.95M162.55 460.8H167.95" stroke="#9b1a2f" stroke-width="1.5" fill="none"/>
<path d="M223.63 432.8V447.3M220.93 432.8H226.33M220.93 447.3H226.33" stroke="#9b1a2f" stroke-width="1.5" fill="none"/>
<path d="M282.01 434.4V440.4M279.31 434.4H284.71M279.31 440.4H284.71" stroke="#9b1a2f" stroke-width="1.5" fill="none"/>
<path d="M340.39 443.5V472.9M337.69 443.5H343.09M337.69 472.9H343.09" stroke="#9b1a2f" stroke-width="1.5" fill="none"/>
<path d="M398.77 443.4V469.7M396.07 443.4H401.47M396.07 469.7H401.47" stroke="#9b1a2f" stroke-width="1.5" fill="none"/>
</g>
<g id="C">
<text transform="translate(14.6 740.9) scale(0.92 1.05)" class="pl">C</text>
<line x1="89.7" y1="728" x2="89.7" y2="990" class="ax"/>
<line x1="83.1" y1="753.2" x2="89.7" y2="753.2" class="tk"/>
<line x1="83.1" y1="871.4" x2="89.7" y2="871.4" class="tk"/>
<line x1="83" y1="990" x2="504" y2="990" class="ax"/>
<line x1="107.6" y1="990" x2="107.6" y2="993.2" class="tk"/>
<line x1="122.87" y1="990" x2="122.87" y2="993.2" class="tk"/>
<line x1="136.09" y1="990" x2="136.09" y2="993.2" class="tk"/>
<line x1="147.76" y1="990" x2="147.76" y2="993.2" class="tk"/>
<line x1="226.86" y1="990" x2="226.86" y2="993.2" class="tk"/>
<line x1="267.03" y1="990" x2="267.03" y2="993.2" class="tk"/>
<line x1="295.53" y1="990" x2="295.53" y2="993.2" class="tk"/>
<line x1="317.64" y1="990" x2="317.64" y2="993.2" class="tk"/>
<line x1="335.7" y1="990" x2="335.7" y2="993.2" class="tk"/>
<line x1="350.97" y1="990" x2="350.97" y2="993.2" class="tk"/>
<line x1="364.19" y1="990" x2="364.19" y2="993.2" class="tk"/>
<line x1="375.86" y1="990" x2="375.86" y2="993.2" class="tk"/>
<line x1="454.96" y1="990" x2="454.96" y2="993.2" class="tk"/>
<line x1="495.13" y1="990" x2="495.13" y2="993.2" class="tk"/>
<line x1="158.2" y1="990" x2="158.2" y2="996.2" class="tk"/>
<line x1="386.3" y1="990" x2="386.3" y2="996.2" class="tk"/>
<text x="141.53" y="1016.1" class="tl" font-size="15.6" textLength="33.32" lengthAdjust="spacingAndGlyphs">1000</text>
<text x="366.19" y="1016.1" class="tl" font-size="15.6" textLength="41.28" lengthAdjust="spacingAndGlyphs">10000</text>
<text x="186.54" y="1043.4" class="al" font-size="19" textLength="64.02" lengthAdjust="spacingAndGlyphs">Relative</text>
<text x="256.43" y="1043.4" class="al" font-size="19" textLength="102.64" lengthAdjust="spacingAndGlyphs">fluorescence</text>
<text x="365.09" y="1043.4" class="al" font-size="19" textLength="39.36" lengthAdjust="spacingAndGlyphs">units</text>
<text transform="translate(72.4 0) rotate(-90)" x="-921.68" y="0" font-size="19.3" textLength="64.64" lengthAdjust="spacingAndGlyphs">Relative</text>
<text transform="translate(72.4 0) rotate(-90)" x="-852.39" y="0" font-size="19.3" textLength="54.92" lengthAdjust="spacingAndGlyphs">counts</text>
<line x1="172" y1="742.3" x2="389.4" y2="742.3" stroke="#000" stroke-width="1.7"/>
<path d="M159.8 742.3L176.6 735.2L172.4 742.3L176.6 749.4Z" fill="#000"/>
<polyline points="89.54,769.2 158.2,759.2 198.37,827 226.86,895.4 248.97,946 267.03,971 282.3,980.8 295.53,985.3 307.2,986.8 317.64,987.3 335.7,987.6 364.19,987.8 386.3,988 426.47,988.2 454.96,988.4 477.07,988.5 495.13,988.5 498.38,988.5" fill="none" stroke="#9b1a2f" stroke-width="2" stroke-linejoin="round" stroke-dasharray="6.5 4.3" stroke-dashoffset="3.4"/>
<polyline points="89.54,755.4 158.2,753.8 198.37,816.5 226.86,884 248.97,940.5 267.03,972.5 282.3,984.7 295.53,986.2 307.2,987.3 317.64,988.3 335.7,988.6 364.19,988.8 386.3,988.8 426.47,989 454.96,989 477.07,989 495.13,989.2 498.38,989.2" fill="none" stroke="#2f4c76" stroke-width="2" stroke-linejoin="round" stroke-dasharray="6.5 4.3" stroke-dashoffset="0"/>
<polyline points="89.54,964 158.2,940 198.37,902 226.86,880.5 248.97,866.8 267.03,839.1 282.3,816.6 295.53,806.2 307.2,764.7 317.64,802.8 327.08,763 335.7,784.3 343.63,783.7 350.97,781.2 357.8,815.8 364.19,827.5 370.2,857 375.86,871.5 381.22,899.5 386.3,905.5 391.13,914 395.74,935 400.15,953.8 404.36,957.2 408.41,968 412.29,969.4 416.03,974 419.63,976.5 423.11,977.6 426.47,978.1 429.71,982.7 432.86,983.3 435.91,985.9 438.87,983.8 441.74,988.7 444.53,988.2 447.24,988.1 449.88,988 452.46,987.9 454.96,988.8 457.41,989.6 459.8,989.4 462.13,989.3 464.41,989.3 466.63,989.4 468.81,989.4 470.94,989.5 473.03,989.5 477.07,989.5 480.96,989.6 488.3,989.6 495.13,989.6 498.38,989.7" fill="none" stroke="#9b1a2f" stroke-width="2" stroke-linejoin="round"/>
<polyline points="89.54,981.9 158.2,966 198.37,949.4 226.86,937.7 248.97,932.5 267.03,927.8 282.3,918.6 295.53,921.1 307.2,912.9 317.64,904.8 327.08,893.3 335.7,864.7 343.63,877 350.97,849 357.8,858.3 364.19,840.6 370.2,833.2 375.86,836.1 381.22,842.2 386.3,827.3 391.13,857 395.74,828.4 400.15,834.5 404.36,857.7 408.41,861.5 412.29,874.6 416.03,885.4 419.63,884.3 423.11,901.5 426.47,903.9 429.71,921.5 432.86,928 435.91,936.3 438.87,948 441.74,935.8 444.53,950.4 447.24,957 449.88,959 452.46,972.8 454.96,963.3 457.41,973 459.8,973.8 462.13,974.4 464.41,980 466.63,976.5 468.81,978.5 470.94,982 473.03,984.5 475.07,986 477.07,983.5 479.03,987.3 480.96,986 482.84,985 484.69,987.5 486.51,988 488.3,987 490.05,986.5 491.77,986.5 493.47,988 495.13,989.5 496.77,990" fill="none" stroke="#2f4c76" stroke-width="2" stroke-linejoin="round"/>
</g>
</svg>
</body></html>
